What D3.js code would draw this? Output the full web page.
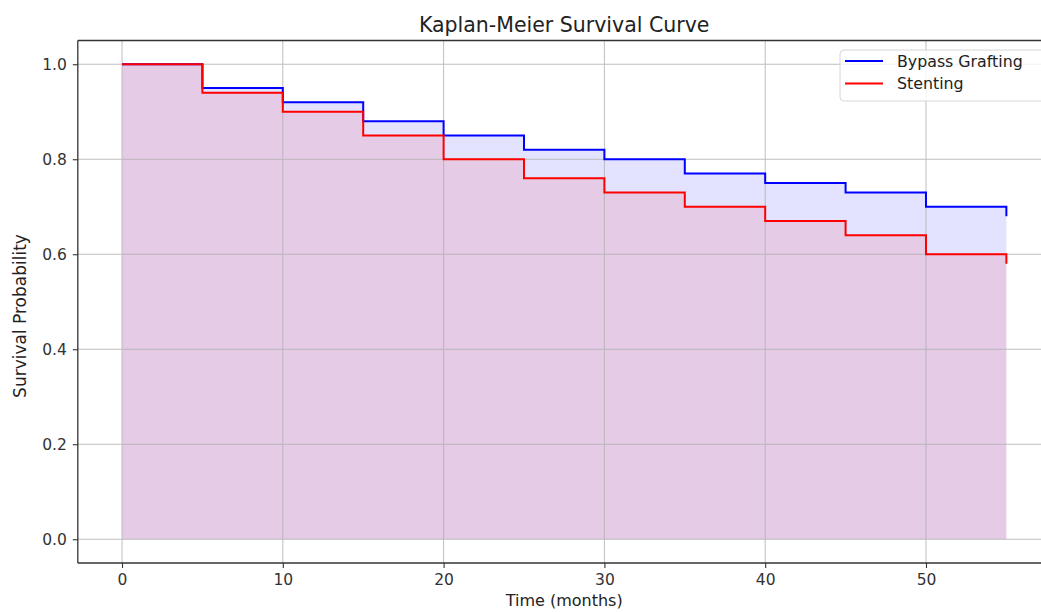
<!DOCTYPE html>
<html>
<head>
<meta charset="utf-8">
<script src="https://cdn.jsdelivr.net/npm/d3@7"></script>
<style>
  body { margin: 0; background: #fff; }
  svg { display: block; font-family: "DejaVu Sans", sans-serif; }
</style>
</head>
<body>
<svg id="chart"></svg>
<script>
// data
const months = [0, 5, 10, 15, 20, 25, 30, 35, 40, 45, 50, 55];
const bypass = [1.0, 0.95, 0.92, 0.88, 0.85, 0.82, 0.80, 0.77, 0.75, 0.73, 0.70, 0.68];
const stenting = [1.0, 0.94, 0.90, 0.85, 0.80, 0.76, 0.73, 0.70, 0.67, 0.64, 0.60, 0.58];
const xTicks = [0, 10, 20, 30, 40, 50];
const yTicks = [0.0, 0.2, 0.4, 0.6, 0.8, 1.0];

const groups = [
  { name: "Bypass Grafting", values: bypass, color: "#0000ff", fillOpacity: 0.11 },
  { name: "Stenting", values: stenting, color: "#ff0000", fillOpacity: 0.1 },
];

const width = 1041;
const height = 612;
const plot = { left: 77.8, right: 1050.6, top: 40.5, bottom: 563 };

const svg = d3.select("#chart").attr("width", width).attr("height", height);

const x = d3.scaleLinear().domain([-2.75, 57.75]).range([plot.left, plot.right]);
const y = d3.scaleLinear().domain([-0.05, 1.05]).range([plot.bottom, plot.top]);

// fills
const area = d3
  .area()
  .curve(d3.curveStepAfter)
  .x((d) => x(d[0]))
  .y0(y(0))
  .y1((d) => y(d[1]));

svg
  .append("g")
  .attr("id", "fills")
  .selectAll("path")
  .data(groups)
  .join("path")
  .attr("d", (g) => area(months.map((m, i) => [m, g.values[i]])))
  .attr("fill", (g) => g.color)
  .attr("fill-opacity", (g) => g.fillOpacity);

// grid (above fills, below lines)
const grid = svg.append("g").attr("id", "grid").attr("stroke", "#b0b0b0").attr("stroke-width", 1).attr("opacity", 0.8);
grid
  .selectAll("line.vx")
  .data(xTicks)
  .join("line")
  .attr("x1", (d) => x(d))
  .attr("x2", (d) => x(d))
  .attr("y1", plot.top)
  .attr("y2", plot.bottom);
grid
  .selectAll("line.hy")
  .data(yTicks)
  .join("line")
  .attr("x1", plot.left)
  .attr("x2", plot.right)
  .attr("y1", (d) => y(d))
  .attr("y2", (d) => y(d));

// step lines
const line = d3
  .line()
  .curve(d3.curveStepAfter)
  .x((d) => x(d[0]))
  .y((d) => y(d[1]));

svg
  .append("g")
  .attr("id", "lines")
  .selectAll("path")
  .data(groups)
  .join("path")
  .attr("d", (g) => line(months.map((m, i) => [m, g.values[i]])))
  .attr("fill", "none")
  .attr("stroke", (g) => g.color)
  .attr("stroke-width", 2);

// axes
const xAxis = svg
  .append("g")
  .attr("id", "x-axis")
  .attr("transform", `translate(0,${plot.bottom})`)
  .call(d3.axisBottom(x).tickValues(xTicks).tickSize(5).tickPadding(6).tickFormat(d3.format("d")));
const yAxis = svg
  .append("g")
  .attr("id", "y-axis")
  .attr("transform", `translate(${plot.left},0)`)
  .call(d3.axisLeft(y).tickValues(yTicks).tickSize(5).tickPadding(6).tickFormat(d3.format(".1f")));

[xAxis, yAxis].forEach((g) => {
  g.select(".domain").remove();
  g.selectAll(".tick line").attr("stroke", "#333").attr("stroke-width", 1.1);
  g.selectAll(".tick text").attr("fill", "#333").style("font-size", "15.5px").style("font-family", "DejaVu Sans");
});

// spines
const spines = svg.append("g").attr("id", "spines").attr("stroke", "#333").attr("stroke-width", 1.3).attr("fill", "none");
spines.append("line").attr("x1", plot.left).attr("x2", plot.left).attr("y1", plot.top).attr("y2", plot.bottom);
spines.append("line").attr("x1", plot.left).attr("x2", plot.right).attr("y1", plot.bottom).attr("y2", plot.bottom);
spines.append("line").attr("x1", plot.left).attr("x2", plot.right).attr("y1", plot.top).attr("y2", plot.top);
spines.append("line").attr("x1", plot.right).attr("x2", plot.right).attr("y1", plot.top).attr("y2", plot.bottom);

// title and labels
svg
  .append("text")
  .attr("x", (plot.left + plot.right) / 2)
  .attr("y", 32)
  .attr("text-anchor", "middle")
  .attr("fill", "#222")
  .style("font-size", "20.5px")
  .text("Kaplan-Meier Survival Curve");

svg
  .append("text")
  .attr("x", (plot.left + plot.right) / 2)
  .attr("y", 606)
  .attr("text-anchor", "middle")
  .attr("fill", "#222")
  .style("font-size", "16px")
  .text("Time (months)");

svg
  .append("text")
  .attr("transform", "translate(26,316) rotate(-90)")
  .attr("text-anchor", "middle")
  .attr("fill", "#222")
  .style("font-size", "17px")
  .text("Survival Probability");

// legend
const legend = svg.append("g").attr("id", "legend").attr("transform", "translate(840,50)");
legend
  .append("rect")
  .attr("width", 215)
  .attr("height", 51)
  .attr("rx", 4)
  .attr("fill", "#fff")
  .attr("fill-opacity", 0.8)
  .attr("stroke", "#d6d6d6");
const items = legend
  .selectAll("g.item")
  .data(groups)
  .join("g")
  .attr("class", "item")
  .attr("transform", (d, i) => `translate(0,${11 + i * 22.5})`);
items
  .append("line")
  .attr("x1", 5)
  .attr("x2", 43)
  .attr("stroke", (d) => d.color)
  .attr("stroke-width", 2);
items
  .append("text")
  .attr("x", 57)
  .attr("y", 5.5)
  .attr("fill", "#222")
  .style("font-size", "15.8px")
  .text((d) => d.name);
</script>
</body>
</html>
